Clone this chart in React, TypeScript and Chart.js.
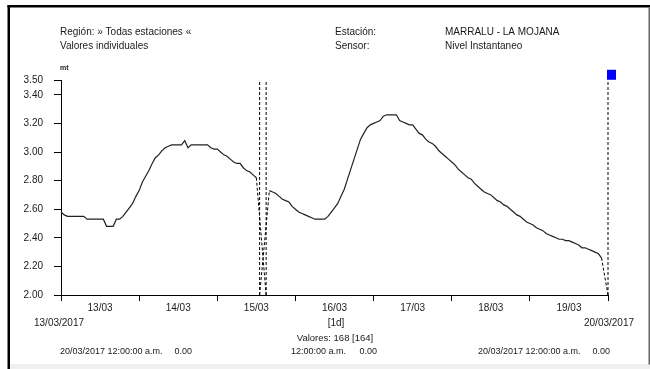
import { useEffect, useRef } from "react";
import { Chart, registerables } from "chart.js";

Chart.register(...registerables);

// ---- data ----
const dayLabels = ["13/03", "14/03", "15/03", "16/03", "17/03", "18/03", "19/03"];
const yTickValues = [2.0, 2.2, 2.4, 2.6, 2.8, 3.0, 3.2, 3.4, 3.5];
const hoursTotal = 168;

// hourly water level (m), 13/03/2017 00:00 .. 19/03/2017 23:00 (null = missing)
const levels: (number | null)[] = [
  2.58, 2.56, 2.55, 2.55, 2.55, 2.55, 2.55, 2.55, 2.53, 2.53, 2.53, 2.53,
  2.53, 2.53, 2.48, 2.48, 2.48, 2.53, 2.53, 2.55, 2.58, 2.61, 2.64, 2.69,
  2.73, 2.79, 2.83, 2.87, 2.92, 2.96, 2.98, 3.01, 3.03, 3.04, 3.05, 3.05,
  3.05, 3.05, 3.08, 3.03, 3.05, 3.05, 3.05, 3.05, 3.05, 3.05, 3.03, 3.02,
  3.02, 3.0, 2.98, 2.97, 2.95, 2.93, 2.92, 2.92, 2.89, 2.87, 2.86, 2.84,
  2.82, null, null, null, 2.73, 2.72, 2.71, 2.69, 2.67, 2.66, 2.65, 2.62,
  2.6, 2.58, 2.57, 2.56, 2.55, 2.54, 2.53, 2.53, 2.53, 2.53, 2.55, 2.58,
  2.61, 2.64, 2.69, 2.74, 2.81, 2.88, 2.95, 3.02, 3.09, 3.13, 3.17, 3.19,
  3.2, 3.21, 3.22, 3.25, 3.26, 3.26, 3.26, 3.26, 3.22, 3.21, 3.2, 3.19,
  3.19, 3.16, 3.13, 3.12, 3.09, 3.07, 3.06, 3.04, 3.01, 2.99, 2.97, 2.95,
  2.93, 2.91, 2.88, 2.86, 2.84, 2.82, 2.81, 2.78, 2.76, 2.74, 2.72, 2.71,
  2.7, 2.68, 2.66, 2.65, 2.63, 2.62, 2.6, 2.58, 2.56, 2.55, 2.53, 2.51,
  2.5, 2.49, 2.47, 2.46, 2.45, 2.43, 2.42, 2.41, 2.4, 2.39, 2.39, 2.38,
  2.38, 2.37, 2.36, 2.35, 2.33, 2.33, 2.32, 2.31, 2.3, 2.29, 2.26, null,
];

// dashed marks for missing values (hour, level)
const gapHours = [61, 63];
const gapDrops = [
  [60, 2.82, 63, 2.0],
  [61, 2.0, 64, 2.73],
  [166, 2.26, 168, 2.0],
];
const cursorHour = 168;
const cursorMarkerLevel = 3.54;

const headerLeft = ["Región: » Todas estaciones «", "Valores individuales"];
const headerMidLabels = ["Estación:", "Sensor:"];
const headerMidValues = ["MARRALU - LA MOJANA", "Nivel Instantaneo"];
const unitLabel = "mt";
const startDateLabel = "13/03/2017";
const endDateLabel = "20/03/2017";
const intervalLabel = "[1d]";
const countLabel = "Valores: 168 [164]";
const footerItems = [
  ["20/03/2017 12:00:00 a.m.", "0.00"],
  ["12:00:00 a.m.", "0.00"],
  ["20/03/2017 12:00:00 a.m.", "0.00"],
];

const FONT = '"Liberation Sans", Arial, sans-serif';
const TEXT = "#1a1a1a";

export default function App() {
  const ref = useRef<HTMLCanvasElement | null>(null);

  useEffect(() => {
    const canvas = ref.current;
    if (!canvas) return;

    const lineData = levels.map((v, i) => ({ x: i, y: v }));
    const dashData: { x: number; y: number | null }[] = [];
    gapHours.forEach((h) => {
      dashData.push({ x: h, y: 2.0 }, { x: h, y: 3.5 }, { x: h + 0.5, y: null });
    });
    gapDrops.forEach(([x1, y1, x2, y2]) => {
      dashData.push({ x: x1, y: y1 }, { x: x2, y: y2 }, { x: x2, y: null });
    });
    dashData.push({ x: cursorHour, y: 2.0 }, { x: cursorHour, y: 3.5 });

    const decor = {
      id: "decor",
      beforeDraw(chart: any) {
        const c = chart.ctx;
        c.save();
        c.fillStyle = "#fff";
        c.fillRect(0, 0, chart.width, chart.height);
        c.restore();
      },
      afterDraw(chart: any) {
        const c = chart.ctx;
        const xs = chart.scales.x;
        const ys = chart.scales.y;
        c.save();
        // frame
        c.fillStyle = "#000";
        c.fillRect(7.5, 5, 643, 2.5);
        c.fillRect(7.5, 5, 2.5, 364);
        c.fillStyle = "#f0f0f0";
        c.fillRect(10, 364, 640, 5);
        c.fillStyle = "#666";
        c.fillRect(648.5, 7.5, 1.5, 357);

        // cursor marker
        const mx = xs.getPixelForValue(cursorHour);
        const my = ys.getPixelForValue(cursorMarkerLevel);
        c.fillStyle = "#0000ff";
        c.fillRect(mx - 1, my - 5, 9, 10);

        c.fillStyle = TEXT;
        c.textBaseline = "middle";
        c.font = "10px " + FONT;
        c.textAlign = "left";
        c.fillText(headerLeft[0], 60, 32);
        c.fillText(headerLeft[1], 60, 46.5);
        c.fillText(headerMidLabels[0], 335, 32);
        c.fillText(headerMidLabels[1], 335, 46.5);
        c.fillText(headerMidValues[0], 445, 32);
        c.fillText(headerMidValues[1], 445, 46.5);

        c.font = "bold 7px " + FONT;
        c.fillText(unitLabel, 60, 68);

        c.font = "10px " + FONT;
        c.textAlign = "center";
        c.fillText(startDateLabel, 59, 323);
        c.fillText(endDateLabel, 609, 323);
        c.fillText(intervalLabel, 336, 323);
        c.font = "9.5px " + FONT;
        c.fillText(countLabel, 335, 338);

        c.font = "9px " + FONT;
        c.textAlign = "left";
        c.fillText(footerItems[0][0], 60, 352);
        c.textAlign = "right";
        c.fillText(footerItems[0][1], 192, 352);
        c.fillText(footerItems[1][0], 346, 352);
        c.fillText(footerItems[1][1], 377, 352);
        c.textAlign = "left";
        c.fillText(footerItems[2][0], 478, 352);
        c.textAlign = "right";
        c.fillText(footerItems[2][1], 610, 352);
        c.restore();
      },
    };

    const chart = new Chart(canvas, {
      type: "line",
      data: {
        datasets: [
          {
            data: lineData as any,
            borderColor: "#222",
            borderWidth: 1.2,
            pointRadius: 0,
            spanGaps: false,
            tension: 0,
          },
          {
            data: dashData as any,
            borderColor: "#000",
            borderWidth: 1,
            borderDash: [3, 2],
            pointRadius: 0,
            spanGaps: false,
            tension: 0,
            clip: 2,
          },
        ],
      },
      options: {
        responsive: false,
        animation: false,
        events: [],
        layout: { padding: { left: 10, top: 80.5, right: 42, bottom: 0 } },
        plugins: { legend: { display: false }, tooltip: { enabled: false } },
        scales: {
          x: {
            type: "linear",
            min: 0,
            max: hoursTotal,
            afterBuildTicks: (s: any) => {
              const t = [];
              for (let h = 0; h <= hoursTotal; h += 12) t.push({ value: h });
              s.ticks = t;
            },
            afterFit: (s: any) => {
              s.height = 74;
            },
            ticks: {
              autoSkip: false,
              maxRotation: 0,
              padding: 1,
              color: TEXT,
              font: { family: FONT, size: 10 },
              callback: (v: any) => {
                const n = Number(v);
                return n % 24 === 12 ? dayLabels[(n - 12) / 24] : "";
              },
            },
            grid: {
              drawOnChartArea: false,
              drawTicks: true,
              tickLength: 6,
              lineWidth: 1,
              color: (ctx: any) =>
                ctx.tick && ctx.tick.value % 24 === 0 ? "#000" : "rgba(0,0,0,0)",
            },
            border: { display: true, color: "#000", width: 1 },
          },
          y: {
            type: "linear",
            min: 2.0,
            max: 3.5,
            afterBuildTicks: (s: any) => {
              s.ticks = yTickValues.map((v) => ({ value: v }));
            },
            afterFit: (s: any) => {
              s.width = 51;
            },
            ticks: {
              autoSkip: false,
              padding: 11,
              color: TEXT,
              font: { family: FONT, size: 10 },
              callback: (v: any) => Number(v).toFixed(2),
            },
            grid: {
              drawOnChartArea: false,
              drawTicks: true,
              tickLength: 7,
              color: "#000",
            },
            border: { display: true, color: "#000", width: 1 },
          },
        },
      },
      plugins: [decor],
    });

    return () => chart.destroy();
  }, []);

  return (
    <div style={{ position: "fixed", left: 0, top: 0, width: 650, height: 369, background: "#fff" }}>
      <canvas ref={ref} width={650} height={369} style={{ width: 650, height: 369, display: "block" }} />
    </div>
  );
}
